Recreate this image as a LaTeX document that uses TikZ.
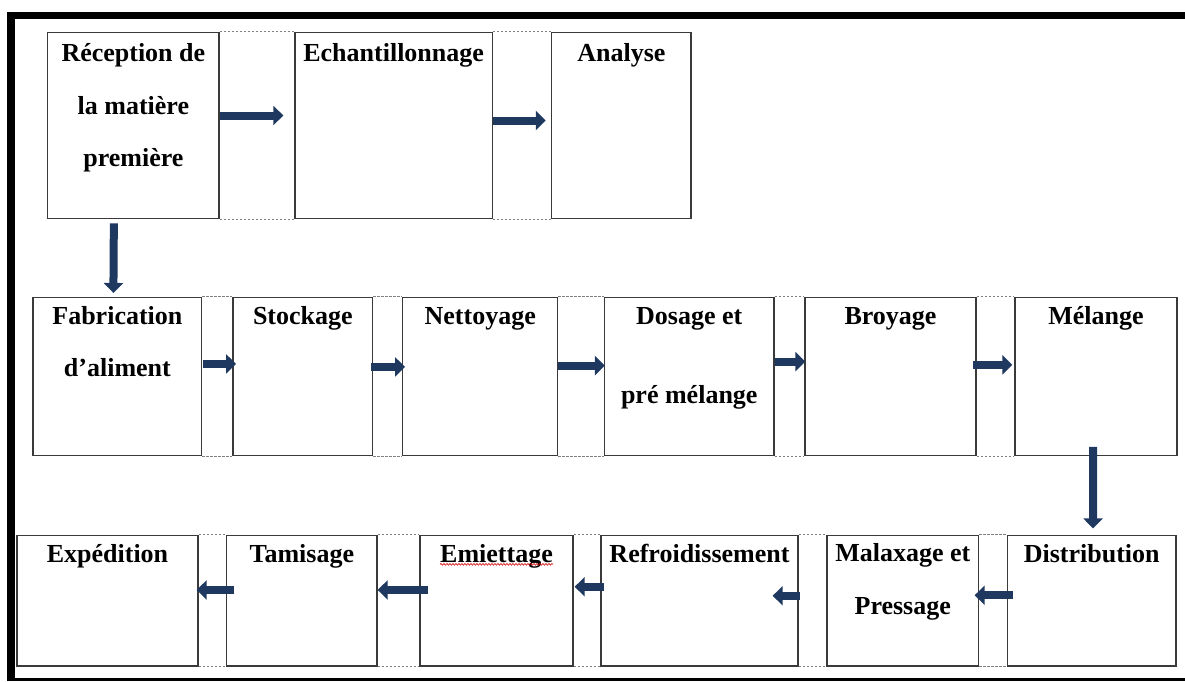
\documentclass[tikz,border=0pt]{standalone}
\usepackage{fontspec}
\setmainfont{Liberation Serif}
\usetikzlibrary{arrows.meta,decorations.pathmorphing}
\definecolor{flowblue}{RGB}{30,56,96}
\definecolor{boxline}{RGB}{58,58,58}
\begin{document}
\begin{tikzpicture}[x=1pt,y=-1pt,
  stage/.style 2 args={draw=boxline,line width=1.3pt,inner sep=0pt,
    minimum width=#1,minimum height=#2},
  lbl/.style={font=\bfseries\fontsize{26}{30}\selectfont,inner sep=0pt,anchor=base},
  gap/.style={draw=black!50,line width=0.8pt,dash pattern=on 2.5pt off 1.5pt},
  flow/.style={draw=flowblue,line width=8pt,-{Triangle[width=19pt,length=10pt]}},
  spell/.style={draw=red!85!black,line width=0.6pt,decorate,
    decoration={snake,amplitude=0.9pt,segment length=3pt}}]
\useasboundingbox (0,0) rectangle (1185,681);

% page frame
\fill (7.3,11.7) rectangle (1185,19.3);
\fill (7.3,11.7) rectangle (15,681);
\fill (7.3,678) rectangle (1185,681);

% first row
\node[stage={171.3pt}{186pt}] (A) at (133.35,125.3) {};
\node[stage={197.3pt}{186pt}] (B) at (393.65,125.3) {};
\node[stage={139.3pt}{186pt}] (C) at (621.35,125.3) {};

% second row
\node[stage={168.7pt}{158.2pt}] (D) at (117.4,376.4) {};
\node[stage={139.7pt}{158.2pt}] (E) at (302.85,376.4) {};
\node[stage={155pt}{158.2pt}]   (F) at (480.2,376.4) {};
\node[stage={169.5pt}{158.2pt}] (G) at (689.25,376.4) {};
\node[stage={171pt}{158.2pt}]   (H) at (890.5,376.4) {};
\node[stage={162pt}{158.2pt}]   (I) at (1096,376.4) {};

% third row
\node[stage={181pt}{130.5pt}]   (J) at (107.5,600.75) {};
\node[stage={150.4pt}{130.5pt}] (K) at (301.8,600.75) {};
\node[stage={153pt}{130.5pt}]   (L) at (496.5,600.75) {};
\node[stage={197pt}{130.5pt}]   (M) at (699.5,600.75) {};
\node[stage={151.5pt}{130.5pt}] (N) at (902.75,600.75) {};
\node[stage={168.5pt}{130.5pt}] (O) at (1091.75,600.75) {};

% dashed borders across the gaps
\foreach \p/\q in {A/B,B/C,D/E,E/F,F/G,G/H,H/I,J/K,K/L,L/M,M/N,N/O}{
  \draw[gap] (\p.north east) -- (\q.north west);
  \draw[gap] (\p.south east) -- (\q.south west);
}

% labels
\node[lbl] (tA1) at ([yshift=-29.4pt]A.north) {Réception de};
\node[lbl] (tA2) at ([yshift=-82.6pt]A.north) {la matière};
\node[lbl] (tA3) at ([yshift=-134.7pt]A.north) {première};
\node[lbl] (tB)  at ([yshift=-29.4pt]B.north) {Echantillonnage};
\node[lbl] (tC)  at ([yshift=-29.4pt]C.north) {Analyse};

\node[lbl] (tD1) at ([yshift=-27.7pt]D.north) {Fabrication};
\node[lbl] (tD2) at ([yshift=-79.7pt]D.north) {d’aliment};
\node[lbl] (tE)  at ([yshift=-27.7pt]E.north) {Stockage};
\node[lbl] (tF)  at ([yshift=-27.7pt]F.north) {Nettoyage};
\node[lbl] (tG1) at ([yshift=-27.7pt]G.north) {Dosage et};
\node[lbl] (tG2) at ([yshift=-106.7pt]G.north) {pré mélange};
\node[lbl] (tH)  at ([yshift=-27.7pt]H.north) {Broyage};
\node[lbl] (tI)  at ([yshift=-27.7pt]I.north) {Mélange};

\node[lbl] (tJ)  at ([yshift=-27.5pt]J.north) {Expédition};
\node[lbl] (tK)  at ([yshift=-27.5pt]K.north) {Tamisage};
\node[lbl] (tL)  at ([yshift=-27.5pt]L.north) {Emiettage};
\node[lbl] (tM)  at ([yshift=-27.5pt]M.north) {Refroidissement};
\node[lbl] (tN1) at ([yshift=-26.5pt]N.north) {Malaxage et};
\node[lbl] (tN2) at ([yshift=-79.5pt]N.north) {Pressage};
\node[lbl] (tO)  at ([yshift=-27.5pt]O.north) {Distribution};
\draw[spell] ([yshift=-2pt]tL.base west) -- ([yshift=-2pt]tL.base east);

% flow arrows, first row
\draw[flow] ([yshift=9.8pt]A.east) -- ([yshift=9.8pt,xshift=-11pt]B.west);
\draw[flow] ([yshift=4.8pt]B.east) -- ([yshift=4.8pt,xshift=-5.3pt]C.west);
\draw[flow] ([xshift=-19.5pt,yshift=-4.4pt]A.south) -- ([xshift=-4pt,yshift=3.7pt]D.north);

% second row
\draw[flow] ([xshift=1pt,yshift=12.5pt]D.east) -- ([xshift=3.7pt,yshift=12.5pt]E.west);
\draw[flow] ([xshift=-2.3pt,yshift=9.5pt]E.east) -- ([xshift=3pt,yshift=9.5pt]F.west);
\draw[flow] ([yshift=10.8pt]F.east) -- ([xshift=1pt,yshift=10.8pt]G.west);
\draw[flow] ([yshift=14.8pt]G.east) -- ([xshift=1pt,yshift=14.8pt]H.west);
\draw[flow] ([xshift=-3.5pt,yshift=11.5pt]H.east) -- ([xshift=-2pt,yshift=11.5pt]I.west);
\draw[flow] ([xshift=-3pt,yshift=9.3pt]I.south) -- ([xshift=1.3pt,yshift=6.4pt]O.north);

% third row
\draw[flow] ([xshift=6.5pt,yshift=5.5pt]O.west) -- ([xshift=-4.5pt,yshift=5.5pt]N.east);
\draw[flow] ([xshift=-26pt,yshift=5pt]N.west) -- ([xshift=-26pt,yshift=5pt]M.east);
\draw[flow] ([xshift=4pt,yshift=14pt]M.west) -- ([xshift=1pt,yshift=14pt]L.east);
\draw[flow] ([xshift=8.6pt,yshift=10.8pt]L.west) -- ([yshift=10.8pt]K.east);
\draw[flow] ([xshift=8.4pt,yshift=10.8pt]K.west) -- ([xshift=-2pt,yshift=10.8pt]J.east);
\end{tikzpicture}
\end{document}
